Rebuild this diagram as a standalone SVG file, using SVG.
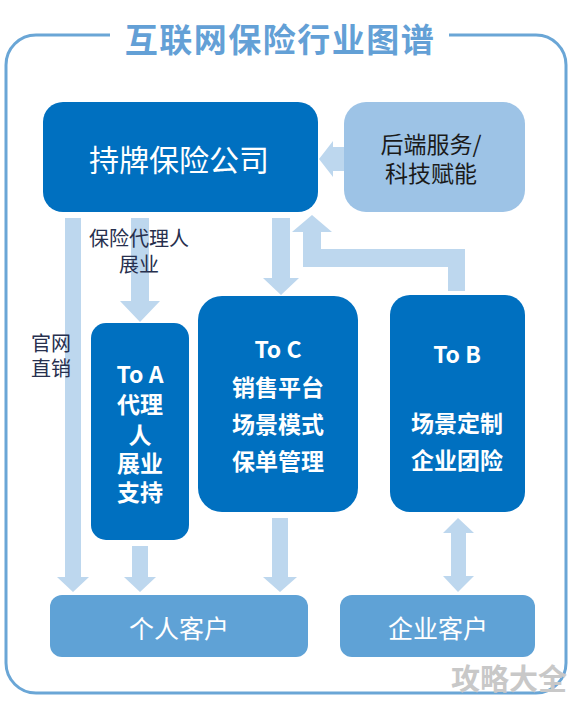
<svg xmlns="http://www.w3.org/2000/svg" width="573" height="701" viewBox="0 0 573 701">
<style>
text{font-family:"Noto Sans CJK SC","Noto Sans",sans-serif;text-anchor:middle;dominant-baseline:central}
.dark{fill:#0070c0}
.wt{fill:#ffffff}
.arrow{fill:#bdd7ee}
.lbl{fill:#27304e;font-size:20px}
.box{font-size:23px;font-weight:bold;fill:#ffffff}
</style>
<rect width="573" height="701" fill="#ffffff"/>
<g id="frame">
<path d="M110,35 H36 A30,30 0 0 0 6,65 V663 A30,30 0 0 0 36,693 H536 A30,30 0 0 0 566,663 V65 A30,30 0 0 0 536,35 H449" fill="none" stroke="#6aa6d6" stroke-width="3"/>
<text x="280" y="38" font-size="33" font-weight="bold" fill="#63a0d6" letter-spacing="1.5">互联网保险行业图谱</text>
</g>
<g id="connectors">
<polygon class="arrow" points="65,218 81,218 81,577 89,577 73,592 57,577 65,577"/>
<polygon class="arrow" points="131,218 149,218 149,301 160,301 140,322 120,301 131,301"/>
<polygon class="arrow" points="272,218 290,218 290,278 299,278 281,295 263,278 272,278"/>
<polygon class="arrow" points="465,291 465,249 321,249 321,232 332,232 312,215 292,232 303,232 303,267 448,267 448,291"/>
<polygon class="arrow" points="319,159 333,141 333,147 344,147 344,171 333,171 333,177"/>
<polygon class="arrow" points="132,546 148,546 148,577 156,577 140,592 124,577 132,577"/>
<polygon class="arrow" points="272,518 288,518 288,577 297,577 280,592 263,577 272,577"/>
<polygon class="arrow" points="458,518 474,533 466,533 466,576 474,576 458,592 443,576 451,576 451,533 443,533"/>
<text class="lbl" x="139" y="237">保险代理人</text>
<text class="lbl" x="139" y="263">展业</text>
<text class="lbl" x="51" y="342" font-size="19">官网</text>
<text class="lbl" x="51" y="367" font-size="19">直销</text>
</g>
<g id="insurer">
<rect class="dark" x="43" y="102" width="275" height="110" rx="20"/>
<text x="179" y="158" font-size="30" fill="#ffffff">持牌保险公司</text>
</g>
<g id="backend">
<rect x="344" y="102" width="181" height="110" rx="22" fill="#9dc3e6"/>
<text x="431" y="143" font-size="23" fill="#1a1a1a">后端服务/</text>
<text x="431" y="172" font-size="23" fill="#1a1a1a">科技赋能</text>
</g>
<g id="toA">
<rect class="dark" x="91" y="323" width="98" height="217" rx="15"/>
<text class="box" x="140" y="373">To A</text>
<text class="box" x="140" y="403">代理</text>
<text class="box" x="140" y="434">人</text>
<text class="box" x="140" y="462">展业</text>
<text class="box" x="140" y="491">支持</text>
</g>
<g id="toC">
<rect class="dark" x="198" y="296" width="160" height="216" rx="24"/>
<text class="box" x="278" y="348">To C</text>
<text class="box" x="278" y="386">销售平台</text>
<text class="box" x="278" y="423">场景模式</text>
<text class="box" x="278" y="460">保单管理</text>
</g>
<g id="toB">
<rect class="dark" x="390" y="295" width="135" height="217" rx="20"/>
<text class="box" x="457" y="353">To B</text>
<text class="box" x="457" y="422">场景定制</text>
<text class="box" x="457" y="459">企业团险</text>
</g>
<g id="personal">
<rect x="50" y="595" width="258" height="62" rx="12" fill="#5fa2d6"/>
<text x="179" y="627" font-size="25" fill="#ffffff">个人客户</text>
</g>
<g id="enterprise">
<rect x="340" y="595" width="195" height="62" rx="12" fill="#5fa2d6"/>
<text x="438" y="627" font-size="25" fill="#ffffff">企业客户</text>
</g>
<g id="watermark">
<text x="509" y="677" font-size="29" font-weight="bold" fill="#c8c8c8">攻略大全</text>
</g>
</svg>
